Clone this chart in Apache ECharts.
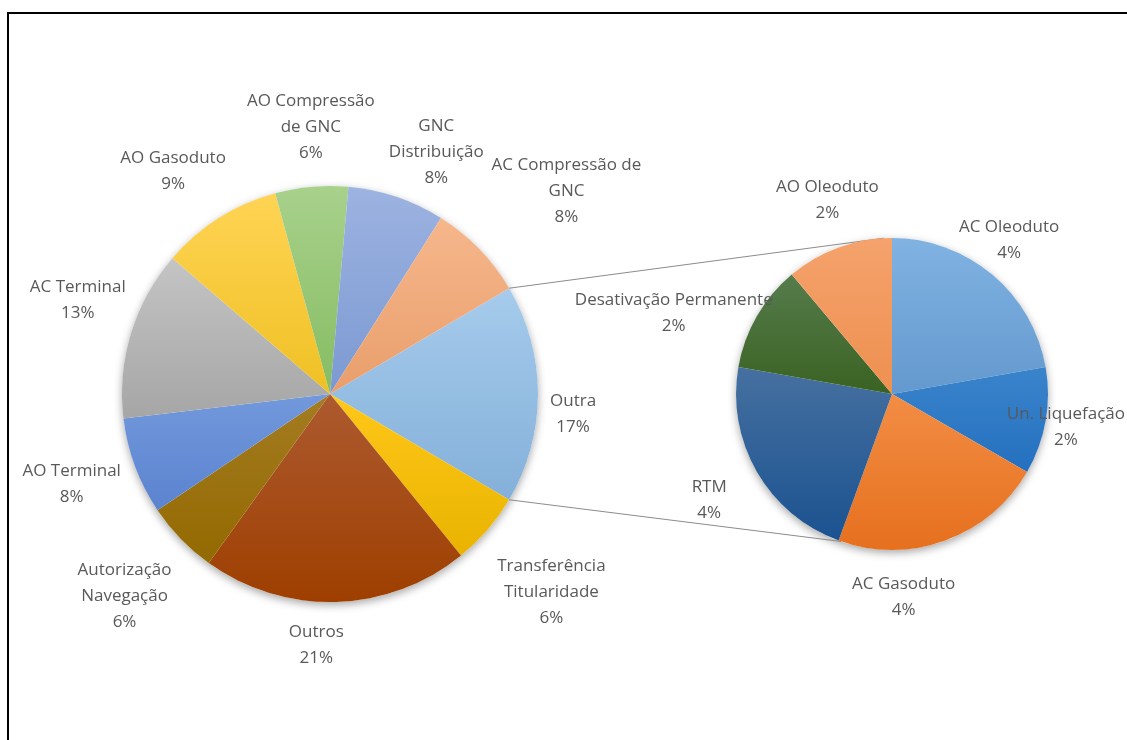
<!DOCTYPE html>
<html>
<head>
<meta charset="utf-8">
<script src="https://cdn.jsdelivr.net/npm/echarts@6/dist/echarts.min.js"></script>
<style>
    html, body { margin: 0; padding: 0; background: #fff; }
    #pie { width: 1127px; height: 740px; }
</style>
</head>
<body>
<div id="pie"></div>
<script>
// grafico principal: a fatia "Outra" e a soma do grafico secundario
const otherName = 'Outra';
const mainNames = ['Transferência Titularidade', 'Outros', 'Autorização Navegação', 'AO Terminal',
    'AC Terminal', 'AO Gasoduto', 'AO Compressão de GNC', 'GNC Distribuição', 'AC Compressão de GNC'];
const mainValues = [6, 22, 6, 8, 14, 10, 6, 8, 8];

// grafico secundario (detalhe de "Outra")
const subNames = ['AC Oleoduto', 'Un. Liquefação', 'AC Gasoduto', 'RTM', 'Desativação Permanente', 'AO Oleoduto'];
const subValues = [4, 2, 4, 4, 2, 2];

// quebras de linha dos rotulos
const wrap = {
    'Transferência Titularidade': 'Transferência\nTitularidade',
    'Autorização Navegação': 'Autorização\nNavegação',
    'AO Compressão de GNC': 'AO Compressão\nde GNC',
    'GNC Distribuição': 'GNC\nDistribuição',
    'AC Compressão de GNC': 'AC Compressão de\nGNC'
};

// cores (topo, base) de cada fatia
const otherColor = ['#a6cbec', '#84b0d9'];
const mainColors = [
    ['#ffc81a', '#e9b300'],
    ['#ad5a30', '#9e3f00'],
    ['#a47c22', '#936900'],
    ['#7299dc', '#5b83cf'],
    ['#c4c4c4', '#a6a6a6'],
    ['#ffd454', '#efc024'],
    ['#a8d18c', '#86bc62'],
    ['#9db3e1', '#7b99d2'],
    ['#f6b78b', '#e99e6c']
];
const subColors = [
    ['#80b3e2', '#6499cf'],
    ['#3a84cc', '#2570bf'],
    ['#f28d44', '#e6701e'],
    ['#4670a0', '#1b5290'],
    ['#567c4c', '#3a6222'],
    ['#f5a26c', '#ee9050']
];

// ajuste fino (px) dos rotulos, como o "melhor ajuste" do Excel
const mainLabelShift = [[-2, 20], [8, 14], [-21, 3], [-6, 9], [-1, -5], [8, -14], [-22, -9], [4, -7], [22, 7], [37, -9]];
const subLabelShift = [[-14, 2], [0, -7], [-56, 17], [-18, 11], [-26, 30], [3, -8]];

const W = 1127;
const C1 = [330, 394], R1 = 208;
const C2 = [892, 394], R2 = 156;
const LABEL_GAP = 14;
const LINK_TOP = 93, LINK_BOTTOM = -109; // angulos (graus) das ligacoes no grafico secundario

const otherValue = subValues.reduce((a, b) => a + b, 0);
const allMain = [otherValue].concat(mainValues);
const total = allMain.reduce((a, b) => a + b, 0);
const mainStart = otherValue / total * 180;

function grad(c) {
    return new echarts.graphic.LinearGradient(0, 0, 0, 1, [
        { offset: 0, color: c[0] }, { offset: 1, color: c[1] }
    ]);
}

// posiciona o rotulo fora da fatia, encostado no meio do arco
function outsideLabel(center, r, startDeg, values, shift) {
    const sum = values.reduce((a, b) => a + b, 0);
    const mids = [];
    let acc = 0;
    values.forEach(v => {
        mids.push((startDeg - (acc + v / 2) / sum * 360) * Math.PI / 180);
        acc += v;
    });
    return function (params) {
        const a = mids[params.dataIndex];
        const ux = Math.cos(a), uy = -Math.sin(a);
        const hw = params.labelRect.width / 2, hh = params.labelRect.height / 2;
        const t = Math.min(Math.abs(ux) > 1e-6 ? hw / Math.abs(ux) : 1e9,
                           Math.abs(uy) > 1e-6 ? hh / Math.abs(uy) : 1e9);
        const s = shift[params.dataIndex];
        let x = center[0] + (r + LABEL_GAP + t) * ux + s[0];
        const y = center[1] + (r + LABEL_GAP + t) * uy + s[1];
        x = Math.max(hw, Math.min(W - 2 - hw, x));
        return { x: x, y: y, align: 'center', verticalAlign: 'middle' };
    };
}

function pt(center, r, deg) {
    const a = deg * Math.PI / 180;
    return [center[0] + r * Math.cos(a), center[1] - r * Math.sin(a)];
}

const labelStyle = {
    show: true,
    position: 'outside',
    color: '#595959',
    fontFamily: 'Open Sans',
    fontSize: 17,
    lineHeight: 26,
    formatter: p => (wrap[p.name] || p.name) + '\n' + Math.round(p.value / total * 100) + '%'
};

const mainData = [{ name: otherName, value: otherValue, itemStyle: { color: grad(otherColor) } }]
    .concat(mainNames.map((n, i) => ({ name: n, value: mainValues[i], itemStyle: { color: grad(mainColors[i]) } })));
const subData = subNames.map((n, i) => ({ name: n, value: subValues[i], itemStyle: { color: grad(subColors[i]) } }));

const p1 = pt(C1, R1, mainStart), p2 = pt(C1, R1, -mainStart);
const q1 = pt(C2, R2, LINK_TOP), q2 = pt(C2, R2, LINK_BOTTOM);

const myChart = echarts.init(document.getElementById('pie'), null, { renderer: 'canvas' });
const option = {
    backgroundColor: '#fff',
    animation: false,
    graphic: [
        { type: 'rect', shape: { x: 8, y: 13, width: 1200, height: 800 }, style: { fill: 'none', stroke: '#000', lineWidth: 2 }, z: 10 },
        { type: 'circle', shape: { cx: C1[0], cy: C1[1], r: R1 }, style: { fill: '#fff', shadowBlur: 8, shadowOffsetY: 3, shadowColor: 'rgba(0,0,0,0.35)' }, z: -1 },
        { type: 'circle', shape: { cx: C2[0], cy: C2[1], r: R2 }, style: { fill: '#fff', shadowBlur: 8, shadowOffsetY: 3, shadowColor: 'rgba(0,0,0,0.35)' }, z: -1 },
        { type: 'line', shape: { x1: p1[0], y1: p1[1], x2: q1[0], y2: q1[1] }, style: { stroke: '#8c8c8c', lineWidth: 1 } },
        { type: 'line', shape: { x1: p2[0], y1: p2[1], x2: q2[0], y2: q2[1] }, style: { stroke: '#8c8c8c', lineWidth: 1 } }
    ],
    series: [
        {
            name: 'principal',
            type: 'pie',
            center: C1,
            radius: R1,
            startAngle: mainStart,
            clockwise: true,
            avoidLabelOverlap: false,
            label: labelStyle,
            labelLine: { show: false },
            labelLayout: outsideLabel(C1, R1, mainStart, allMain, mainLabelShift),
            data: mainData
        },
        {
            name: 'secundario',
            type: 'pie',
            center: C2,
            radius: R2,
            startAngle: 90,
            clockwise: true,
            avoidLabelOverlap: false,
            label: labelStyle,
            labelLine: { show: false },
            labelLayout: outsideLabel(C2, R2, 90, subValues, subLabelShift),
            data: subData
        }
    ]
};
myChart.setOption(option);
</script>
</body>
</html>
